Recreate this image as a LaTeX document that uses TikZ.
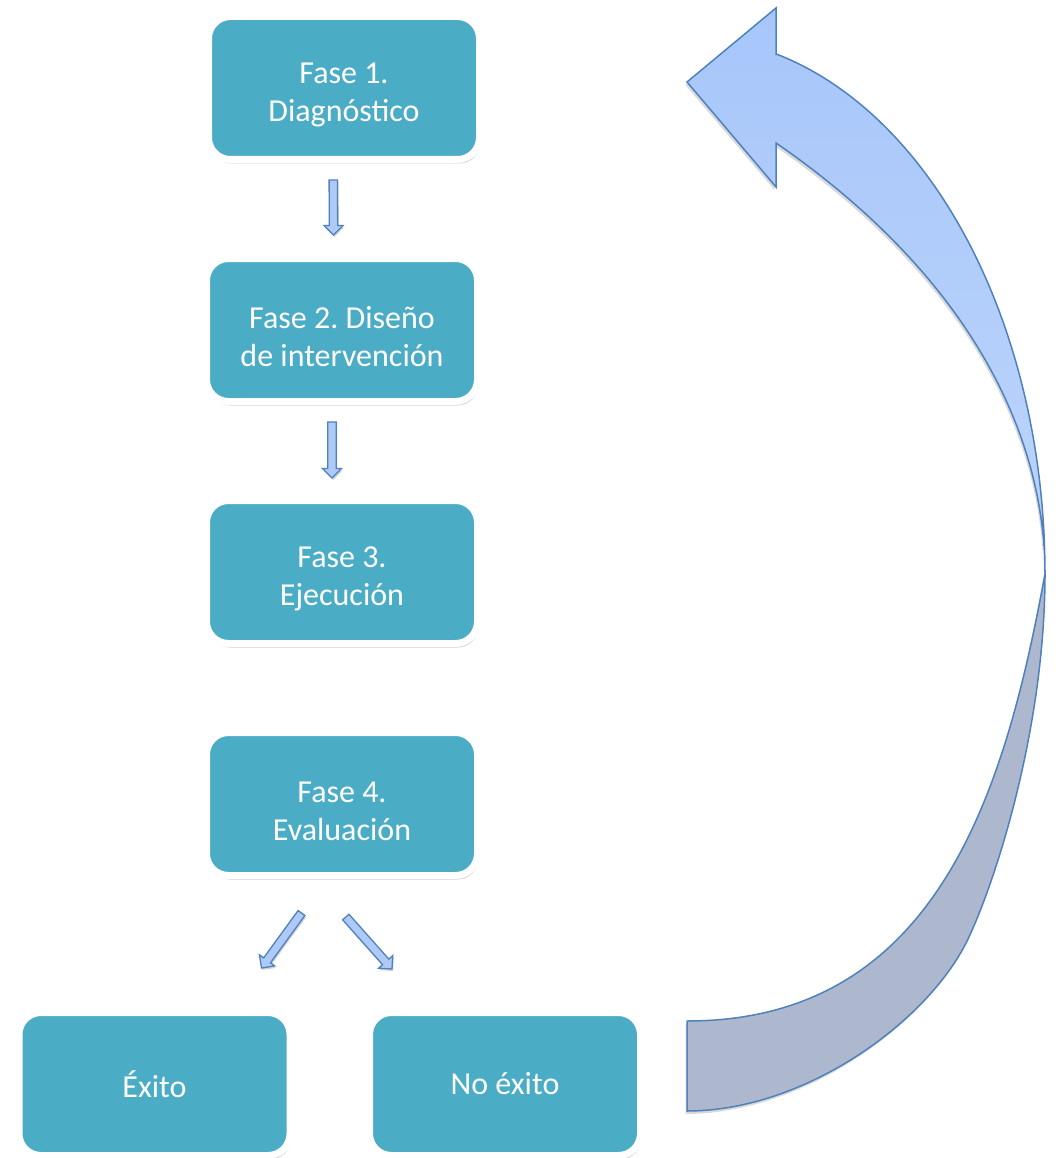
\documentclass[tikz,border=0pt]{standalone}
\usepackage{fontspec}
\setmainfont{Carlito}
\usetikzlibrary{calc,shadows}
\definecolor{boxteal}{HTML}{4BACC6}
\definecolor{edgeblue}{HTML}{4F81BD}
\definecolor{arrowlight}{HTML}{AECBF8}
\definecolor{arrowtop}{HTML}{A7C6FA}
\definecolor{arrowbot}{HTML}{BDD5FB}
\definecolor{arrowdark}{HTML}{ADB8CF}
\newcommand{\topstrut}{\rule{0pt}{35pt}}
\newcommand{\blkarrow}[2]{%
  \coordinate (#1h) at ($(#2)!9.5pt!(#1)$);
  \draw[smallarrow] ($(#1)!4.2pt!90:(#2)$) -- ($(#1h)!4.2pt!90:(#2)$) -- ($(#1h)!9.5pt!90:(#2)$) -- (#2)
     -- ($(#1h)!9.5pt!-90:(#2)$) -- ($(#1h)!4.2pt!-90:(#2)$) -- ($(#1)!4.2pt!-90:(#2)$) -- cycle;}
\begin{document}
\begin{tikzpicture}[x=1pt,y=-1pt,
  phase/.style={rectangle, rounded corners=22pt, fill=boxteal, draw=white, line width=7pt,
    minimum width=271pt, minimum height=143pt, text=white, align=center, inner sep=0pt,
    font=\fontsize{32}{38}\selectfont\frenchspacing,
    general shadow={shadow scale=1.018, opacity=0.10, fill=black},
    drop shadow={shadow xshift=1.5pt, shadow yshift=-4pt, opacity=0.20, fill=black}},
  smallarrow/.style={fill=arrowlight, draw=edgeblue, line width=1.3pt, line join=miter,
    drop shadow={shadow xshift=1pt, shadow yshift=-2pt, opacity=0.18, fill=black}},
  bigarrow/.style={draw=edgeblue, line width=1.5pt, line join=miter,
    drop shadow={shadow xshift=-1.5pt, shadow yshift=-3pt, opacity=0.15, fill=black}}]
\useasboundingbox (0,0) rectangle (1056,1158);

\node[phase] (f1) at (344,88) {\topstrut Fase 1.\\Diagnóstico};
\node[phase] (f2) at (342,330) {\topstrut Fase 2. Diseño\\de intervención};
\node[phase] (f3) at (342,572) {\topstrut Fase 3.\\Ejecución};
\node[phase] (f4) at (342,804) {\topstrut Fase 4.\\Evaluación};
\node[phase] (ex) at (154.5,1084) {Éxito};
\node[phase] (nx) at (505,1084) {No éxito};

\coordinate (a1s) at ($(f1.south)+(-10.7,17)$);
\coordinate (a1e) at ($(f1.south)+(-10.5,72)$);
\coordinate (a2s) at ($(f2.south)+(-10,17)$);
\coordinate (a2e) at ($(f2.south)+(-10,73)$);
\coordinate (a3s) at ($(f4.south)+(-40.5,34)$);
\coordinate (a3e) at ($(f4.south)+(-80.5,89)$);
\coordinate (a4s) at ($(f4.south)+(3.8,38)$);
\coordinate (a4e) at ($(f4.south)+(50,90)$);

\blkarrow{a1s}{a1e}
\blkarrow{a2s}{a2e}
\blkarrow{a3s}{a3e}
\blkarrow{a4s}{a4e}

% curved return arrow (No exito -> Fase 1)
\coordinate (ctip) at (687,82);
\coordinate (chtop) at (776,8);
\coordinate (chbot) at (776,187);
\coordinate (cmeet) at (1045,574);
\coordinate (cmid) at (969,937);
\coordinate (cinend) at (687,1021);
\coordinate (cend) at (687,1111);
\path[bigarrow, fill=arrowdark]
  (cmeet) .. controls (1005,792) and (937,1021) .. (cinend)
  -- (cend)
  .. controls (807,1111) and (931.2,1018.9) .. (cmid)
  .. controls (998.4,873.3) and (1045,724) .. (cmeet)
  -- cycle;
\path[bigarrow, top color=arrowtop, bottom color=arrowbot]
  (ctip) -- (chtop) -- (776,55)
  -- plot[domain=-75.6:0, samples=60] ({687+358*cos(\x)},{574+537*sin(\x)})
  -- (cmeet) .. controls (1045,431) and (966,274) .. (776,143)
  -- (chbot) -- cycle;
\end{tikzpicture}
\end{document}
